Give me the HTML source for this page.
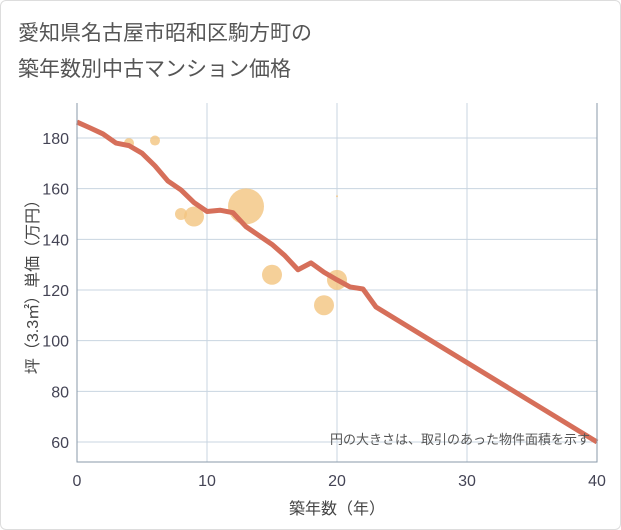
<!DOCTYPE html>
<html><head><meta charset="utf-8"><style>
body{margin:0;background:#fff;font-family:"Liberation Sans","Noto Sans CJK JP",sans-serif}
#wrap{position:absolute;left:0;top:0;width:619px;height:528px;border:1px solid #ddd;border-radius:6px;background:#fff}
</style></head><body>
<div id="wrap">
<svg width="621" height="530" style="position:absolute;left:-1px;top:-1px">
<text x="18" y="40" font-size="21" fill="#555">愛知県名古屋市昭和区駒方町の</text>
<text x="18" y="76" font-size="21" fill="#555">築年数別中古マンション価格</text>
<g id="grid"></g><g id="bubbles"></g><g id="line"></g><g id="axes"></g>
<text x="590" y="444" font-size="13" fill="#555" text-anchor="end">円の大きさは、取引のあった物件面積を示す</text>
<text x="337" y="514" font-size="16" fill="#444" text-anchor="middle">築年数（年）</text>
<text transform="translate(38,283) rotate(-90)" font-size="16" fill="#444" text-anchor="middle">坪（3.3㎡）単価（万円）</text>
</svg></div>
<script>
const xTicks=[0,10,20,30,40];
const yTicks=[60,80,100,120,140,160,180];
const lineYears=[0,1,2,3,4,5,6,7,8,9,10,11,12,13,14,15,16,17,18,19,20,21,22,23,40];
const linePrices=[186.3,184,181.6,178,177,174,169,163,159.5,154.5,151,151.5,150.5,145,141.5,138,133.5,128,130.7,127,124,121.2,120.4,113.3,60];
const bubbleYears=[4,6,8,9,13,15,19,20,20];
const bubblePrices=[178,179,150,149,153,126,114,124,157];
const bubbleAreas=[25,25,36,100,324,100,100,100,1];
const L=77,R=597,T=103,B=462;
const sx=v=>L+(v-0)*(R-L)/40;
const sy=v=>138+(180-v)*304/120;
const NS="http://www.w3.org/2000/svg";
function mk(tag,attrs,parent){const e=document.createElementNS(NS,tag);for(const k in attrs)e.setAttribute(k,attrs[k]);document.getElementById(parent).appendChild(e);return e;}
mk('rect',{x:L,y:T,width:R-L,height:B-T,fill:'#fff'},'grid');
yTicks.forEach(v=>{const l=mk('line',{x1:L,x2:R,y1:sy(v),y2:sy(v),stroke:'#c8d4e0','stroke-width':1},'grid');


const t=mk('text',{x:L-8,y:sy(v)+6,'font-size':16,fill:'#445','text-anchor':'end'},'axes');t.textContent=v;

});
xTicks.forEach(v=>{const l=mk('line',{x1:sx(v),x2:sx(v),y1:T,y2:B,stroke:'#c8d4e0','stroke-width':1},'grid');


const t=mk('text',{x:sx(v),y:B+24,'font-size':16,fill:'#445','text-anchor':'middle'},'axes');t.textContent=v;

});
const ax=mk('path',{d:`M${L},${T}V${B}H${R}V${T}`,fill:'none',stroke:'#8a9aaa','stroke-width':1},'axes');


bubbleYears.forEach((yr,i)=>{const c=mk('circle',{cx:sx(yr),cy:sy(bubblePrices[i]),r:Math.sqrt(bubbleAreas[i]),fill:'#f3c47f','fill-opacity':0.8},'bubbles');

});
const p=mk('polyline',{points:lineYears.map((y,i)=>sx(y)+','+sy(linePrices[i])).join(' '),fill:'none',stroke:'#d66f5a','stroke-width':5,'stroke-linejoin':'round'},'line');


</script>
</body></html>
